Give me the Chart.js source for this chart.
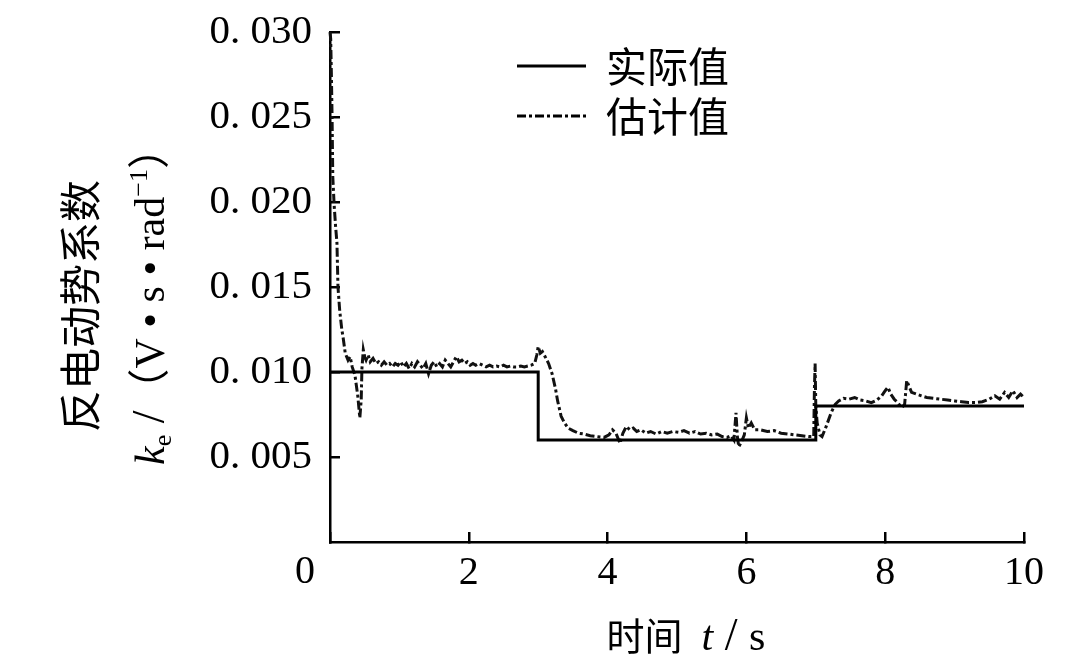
<!DOCTYPE html>
<html>
<head>
<meta charset="utf-8">
<script src="https://cdn.jsdelivr.net/npm/chart.js@4.4.0/dist/chart.umd.min.js"></script>
<style>
  html, body { margin: 0; padding: 0; background: #fff; }
  #wrap { width: 1080px; height: 662px; }
</style>
</head>
<body>
<div id="wrap"><canvas id="ke" width="1080" height="662"></canvas></div>
<script>
// actual back-EMF coefficient (step changes at 3 s and 7 s)
var actualTime = [0, 3, 3, 7, 7, 10];
var actualValue = [0.010, 0.010, 0.006, 0.006, 0.008, 0.008];

// estimated value
var estTime = [0.00, 0.01, 0.02, 0.03, 0.04, 0.06, 0.08, 0.10, 0.115, 0.14, 0.17, 0.19, 0.22, 0.26, 0.29, 0.32, 0.36, 0.40, 0.43, 0.45, 0.46, 0.48,
  0.50, 0.52, 0.55, 0.58, 0.62, 0.66, 0.70, 0.74, 0.78, 0.82, 0.86, 0.90, 0.94, 0.98, 1.02, 1.06, 1.10, 1.14, 1.18, 1.22, 1.26, 1.30, 1.34, 1.38,
  1.42, 1.46, 1.50, 1.54, 1.58, 1.62, 1.66, 1.70, 1.74, 1.78, 1.82, 1.86, 1.90, 1.94, 1.98, 2.02, 2.06, 2.10, 2.15, 2.20, 2.25, 2.30, 2.35,
  2.40, 2.45, 2.50, 2.55, 2.60, 2.65, 2.70, 2.75, 2.80, 2.85, 2.90, 2.95, 2.98, 3.00, 3.03, 3.06, 3.10, 3.15, 3.20, 3.25, 3.28, 3.33, 3.38,
  3.43, 3.50, 3.58, 3.66, 3.75, 3.85, 3.95, 4.02, 4.07, 4.12, 4.18, 4.22, 4.27, 4.32, 4.37, 4.42, 4.48, 4.55, 4.62, 4.70, 4.78, 4.86, 4.94,
  5.02, 5.10, 5.18, 5.26, 5.34, 5.42, 5.50, 5.58, 5.65, 5.72, 5.78, 5.82, 5.85, 5.87, 5.89, 5.93, 5.97, 6.00, 6.03, 6.07, 6.12, 6.20, 6.30,
  6.40, 6.50, 6.60, 6.70, 6.80, 6.90, 6.97, 6.98, 6.99, 7.00, 7.02, 7.06, 7.09, 7.15, 7.22, 7.28, 7.33, 7.40, 7.48, 7.56, 7.64, 7.72, 7.80,
  7.88, 7.95, 8.00, 8.04, 8.08, 8.13, 8.18, 8.24, 8.28, 8.31, 8.34, 8.38, 8.45, 8.52, 8.60, 8.70, 8.80, 8.90, 9.00, 9.10, 9.20, 9.30, 9.40,
  9.50, 9.58, 9.65, 9.72, 9.78, 9.84, 9.90, 9.95, 10.00];
var estValue = [0.0300, 0.0296, 0.0275, 0.0250, 0.0215, 0.0198, 0.0186, 0.0176, 0.0150, 0.0136, 0.0125, 0.0120, 0.0111, 0.0107, 0.0109, 0.0103, 0.0098, 0.0086, 0.0073, 0.0084, 0.0102, 0.0113,
  0.0109, 0.0107, 0.0110, 0.0106, 0.0108, 0.0105, 0.0106, 0.0104, 0.0106, 0.0104, 0.0105, 0.0103, 0.0105, 0.0104, 0.0106, 0.0103, 0.0105, 0.0102, 0.0105, 0.0103, 0.0106, 0.0104, 0.0102, 0.0105,
  0.0099, 0.0104, 0.0106, 0.0103, 0.0105, 0.0103, 0.0107, 0.0105, 0.0103, 0.0106, 0.0109, 0.0106, 0.0107, 0.0105, 0.0106, 0.0104, 0.0105, 0.0104, 0.0105, 0.0104, 0.0103, 0.0104, 0.0103,
  0.01035, 0.0103, 0.0104, 0.0103, 0.01035, 0.0103, 0.0103, 0.01035, 0.0103, 0.01035, 0.0104, 0.0105, 0.0110, 0.0115, 0.0111, 0.0112, 0.0109, 0.0105, 0.0099, 0.0090, 0.0083, 0.0074, 0.0070,
  0.0067, 0.00655, 0.0064, 0.00635, 0.00625, 0.0062, 0.00615, 0.0063, 0.0066, 0.0064, 0.0058, 0.0064, 0.0068, 0.0066, 0.0067, 0.0065, 0.0066, 0.0064, 0.0065, 0.00635, 0.0065, 0.0064, 0.0065,
  0.00645, 0.00655, 0.0064, 0.0065, 0.00635, 0.0064, 0.0063, 0.00635, 0.0062, 0.00615, 0.00625, 0.0060, 0.0076, 0.0062, 0.0056, 0.0059, 0.0063, 0.0073, 0.0067, 0.0070, 0.0066, 0.0066, 0.0065,
  0.00655, 0.0064, 0.00635, 0.0063, 0.00625, 0.0062, 0.0062, 0.0090, 0.0105, 0.0080, 0.0070, 0.0063, 0.0062, 0.0068, 0.0076, 0.0081, 0.0083, 0.00845, 0.0084, 0.0085, 0.00835, 0.0083, 0.0082,
  0.00835, 0.0086, 0.0089, 0.0091, 0.0087, 0.0084, 0.0082, 0.0079, 0.0081, 0.0095, 0.0092, 0.0088, 0.0087, 0.0086, 0.0085, 0.00845, 0.0084, 0.00835, 0.0083, 0.00825, 0.0082, 0.0082, 0.00825,
  0.0084, 0.0086, 0.0084, 0.0088, 0.0085, 0.0089, 0.0085, 0.0087, 0.0085];

var yTickValues = [0.005, 0.010, 0.015, 0.020, 0.025, 0.030];
var yTickLabels = ['0. 005', '0. 010', '0. 015', '0. 020', '0. 025', '0. 030'];
var legendLabels = ['实际值', '估计值'];

var SERIF = "'Liberation Serif', 'DejaVu Serif', serif";
var CJK = "'Noto Sans CJK SC', sans-serif";

function pts(xs, ys) {
  var out = [];
  for (var i in xs) out.push({ x: xs[i], y: ys[i] });
  return out;
}

// draws legend, axis titles and the shared origin "0"
var overlay = {
  id: 'overlay',
  afterDraw: function (chart) {
    var ctx = chart.ctx;
    ctx.save();
    ctx.fillStyle = '#000';
    ctx.strokeStyle = '#000';

    // legend
    for (var i = 0; i < legendLabels.length; i++) {
      var ly = 66 + i * 50;
      ctx.lineWidth = 3;
      ctx.setLineDash(i === 0 ? [] : [9, 3, 3, 3]);
      ctx.beginPath();
      ctx.moveTo(517, ly);
      ctx.lineTo(586, ly);
      ctx.stroke();
      ctx.setLineDash([]);
      ctx.font = '41px ' + CJK;
      ctx.textAlign = 'left';
      ctx.textBaseline = 'middle';
      ctx.fillText(legendLabels[i], 606, ly);
    }

    // origin label
    ctx.font = '40px ' + SERIF;
    ctx.textAlign = 'center';
    ctx.textBaseline = 'middle';
    ctx.fillText('0', 305, 572);

    // y title, two lines
    ctx.save();
    ctx.translate(80, 306);
    ctx.rotate(-Math.PI / 2);
    ctx.font = '42px ' + CJK;
    ctx.textAlign = 'center';
    ctx.textBaseline = 'middle';
    ctx.fillText('反电动势系数', 0, 0);
    ctx.restore();

    var parts = [
      ['k', 'italic 42px ' + SERIF, 0],
      ['e', '26px ' + SERIF, 7],
      [' /', '46px ' + SERIF, 0],
      ['（', '42px ' + CJK, 0],
      ['V • s • rad', '42px ' + SERIF, 0],
      ['−1', '26px ' + SERIF, -17],
      ['）', '42px ' + CJK, 0]
    ];
    drawParts(ctx, parts, 150, 296, true);

    // x title
    var xparts = [
      ['时间', '38px ' + CJK, 0],
      ['  ', '38px ' + SERIF, 0],
      ['t', 'italic 42px ' + SERIF, 0],
      [' / ', '46px ' + SERIF, 0],
      ['s', '42px ' + SERIF, 0]
    ];
    drawParts(ctx, xparts, 686, 636, false);

    ctx.restore();
  }
};

function drawParts(ctx, parts, cx, cy, rotated) {
  var total = 0, i;
  for (i = 0; i < parts.length; i++) {
    ctx.font = parts[i][1];
    total += ctx.measureText(parts[i][0]).width;
  }
  ctx.save();
  ctx.translate(cx, cy);
  if (rotated) ctx.rotate(-Math.PI / 2);
  ctx.textAlign = 'left';
  ctx.textBaseline = 'alphabetic';
  var x = -total / 2;
  for (i = 0; i < parts.length; i++) {
    ctx.font = parts[i][1];
    ctx.fillText(parts[i][0], x, 14 + parts[i][2]);
    x += ctx.measureText(parts[i][0]).width;
  }
  ctx.restore();
}

var ctx = document.getElementById('ke').getContext('2d');
var chart = new Chart(ctx, {
  type: 'line',
  data: {
    datasets: [
      {
        label: legendLabels[0],
        data: pts(actualTime, actualValue),
        borderColor: '#000',
        borderWidth: 3,
        pointRadius: 0,
        tension: 0,
        fill: false
      },
      {
        label: legendLabels[1],
        data: pts(estTime, estValue),
        borderColor: '#111',
        borderWidth: 3,
        borderDash: [9, 3, 3, 3],
        pointRadius: 0,
        tension: 0,
        fill: false,
        clip: false
      }
    ]
  },
  options: {
    responsive: false,
    animation: false,
    devicePixelRatio: 1,
    layout: { padding: { top: 32, right: 56, bottom: 0, left: 0 } },
    plugins: {
      legend: { display: false },
      tooltip: { enabled: false }
    },
    scales: {
      x: {
        type: 'linear',
        min: 0,
        max: 10,
        afterFit: function (s) { s.height = 120; s.paddingLeft = 0; s.paddingRight = 0; },
        ticks: {
          stepSize: 2,
          color: '#000',
          font: { family: SERIF, size: 40 },
          padding: 17,
          maxRotation: 0,
          callback: function (v) { return v === 0 ? '' : v; }
        },
        grid: { drawOnChartArea: false, tickLength: -10, color: '#000', lineWidth: 2.5 },
        border: { color: '#000', width: 2.5 }
      },
      y: {
        min: 0,
        max: 0.030,
        afterFit: function (s) { s.width = 330; s.paddingTop = 0; s.paddingBottom = 0; },
        afterBuildTicks: function (s) {
          s.ticks = yTickValues.map(function (v) { return { value: v }; });
        },
        ticks: {
          color: '#000',
          font: { family: SERIF, size: 41 },
          padding: 28,
          callback: function (v) {
            var i = yTickValues.indexOf(v);
            return i < 0 ? '' : yTickLabels[i];
          }
        },
        grid: { drawOnChartArea: false, tickLength: -10, color: '#000', lineWidth: 2.5 },
        border: { color: '#000', width: 2.5 }
      }
    }
  },
  plugins: [overlay]
});
</script>
</body>
</html>
